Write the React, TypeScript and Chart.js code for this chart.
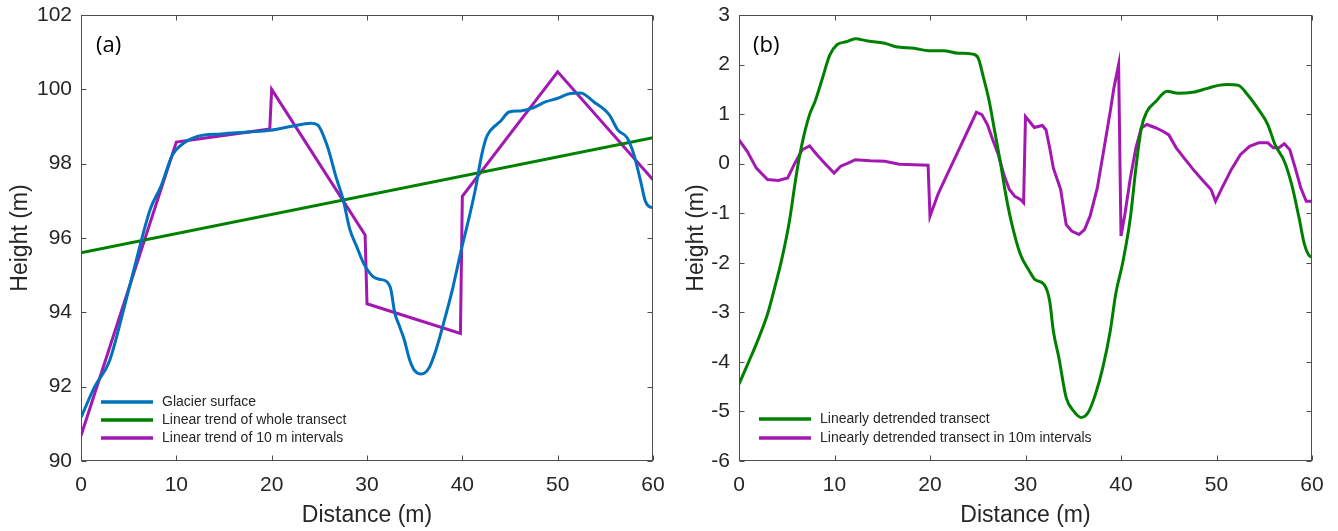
import React, { useEffect, useRef } from 'react';
import { Chart, registerables } from 'chart.js';

Chart.register(...registerables);

const FONT = '"Liberation Sans", Arial, Helvetica, sans-serif';
const TEXT = '#262626';
const BLUE = '#0072BD';
const GREEN = '#008000';
const PURPLE = '#A318B0';

// Panel (a): glacier surface profile
const glacierX = [0, 1.4, 3.0, 4.5, 5.6, 6.5, 7.3, 8.4, 9.6, 10.5, 12.2, 14.7, 17.5, 19.9, 22.0, 24.1, 24.8, 25.8, 26.8, 27.5, 28.2, 28.9, 29.7, 30.6, 31.3, 32.0, 32.5, 32.9, 33.4, 33.9, 34.45, 35.0, 35.7, 36.5, 37.2, 38.1, 39.0, 39.86, 40.7, 41.4, 41.96, 42.5, 43.0, 44.0, 44.9, 46.1, 47.5, 48.7, 50.0, 51.2, 52.4, 53.8, 55.4, 56.3, 57.3, 58.0, 58.7, 59.2, 59.74, 60];
const glacierY = [91.17, 91.98, 92.7, 94.1, 95.2, 96.1, 96.8, 97.4, 98.24, 98.5, 98.73, 98.8, 98.85, 98.9, 99.0, 99.09, 99.05, 98.5, 97.6, 97.03, 96.23, 95.78, 95.29, 94.97, 94.89, 94.84, 94.62, 94.0, 93.63, 93.27, 92.74, 92.43, 92.34, 92.5, 92.96, 93.77, 94.66, 95.65, 96.54, 97.35, 98.15, 98.69, 98.91, 99.14, 99.39, 99.42, 99.51, 99.66, 99.76, 99.88, 99.9, 99.66, 99.32, 98.91, 98.69, 98.24, 97.53, 96.99, 96.83, 96.82];

// Linear trend of whole transect
const trendX = [0, 60];
const trendY = [95.6, 98.7];

// Linear trend of 10 m intervals
const intervalX = [0, 10, 19.8, 20, 29.8, 30, 39.8, 40, 50, 60];
const intervalY = [90.68, 98.58, 98.93, 100.0, 96.08, 94.23, 93.43, 97.12, 100.47, 97.57];

// Panel (b): linearly detrended transect
const detrendX = [0, 1.06, 2.02, 2.98, 3.74, 4.51, 5.28, 5.85, 6.24, 6.81, 7.39, 7.97, 8.73, 9.5, 10.27, 11.23, 12.19, 13.34, 15.26, 16.41, 18.33, 19.87, 21.4, 22.94, 24.47, 25.05, 25.62, 26.2, 26.78, 27.35, 27.93, 28.5, 29.46, 30.42, 31.0, 31.96, 32.53, 32.92, 33.49, 34.26, 35.03, 35.8, 36.56, 37.33, 38.1, 38.87, 39.44, 40.21, 40.98, 41.56, 42.13, 42.71, 43.67, 44.82, 45.97, 47.5, 49.04, 50.19, 51.15, 52.3, 53.26, 54.41, 55.37, 56.14, 57.1, 57.87, 58.64, 59.21, 59.79, 60];
const detrendY = [-4.45, -3.98, -3.54, -3.04, -2.5, -1.9, -1.16, -0.42, 0.05, 0.58, 0.99, 1.26, 1.72, 2.19, 2.4, 2.46, 2.52, 2.48, 2.43, 2.36, 2.33, 2.28, 2.28, 2.23, 2.21, 2.13, 1.72, 1.26, 0.65, 0.05, -0.62, -1.16, -1.83, -2.17, -2.34, -2.44, -2.77, -3.38, -3.91, -4.72, -4.99, -5.12, -5.02, -4.65, -4.11, -3.38, -2.64, -1.97, -1.09, -0.09, 0.72, 1.05, 1.26, 1.46, 1.42, 1.44, 1.52, 1.58, 1.6, 1.58, 1.39, 1.09, 0.79, 0.38, 0.05, -0.42, -1.09, -1.63, -1.87, -1.88];

// Linearly detrended transect in 10 m intervals
const detrend10X = [0, 0.86, 1.82, 2.98, 4.13, 5.09, 5.85, 6.62, 7.39, 8.16, 9.12, 9.96, 10.65, 11.42, 12.19, 13.72, 15.26, 16.79, 18.33, 19.8, 20.0, 20.83, 21.79, 22.94, 24.09, 24.86, 25.43, 26.01, 26.58, 27.16, 27.73, 28.31, 28.88, 29.46, 29.8, 30.0, 30.42, 30.92, 31.77, 32.15, 32.53, 32.92, 33.68, 34.26, 34.84, 35.6, 36.18, 36.76, 37.52, 38.29, 38.87, 39.25, 39.75, 40.0, 40.4, 40.98, 41.56, 42.13, 42.71, 43.67, 44.43, 45.01, 45.78, 46.74, 47.7, 48.66, 49.43, 49.9, 50.58, 51.54, 52.5, 53.46, 54.41, 55.37, 55.95, 56.53, 57.1, 57.68, 58.25, 58.83, 59.4, 60];
const detrend10Y = [0.48, 0.25, -0.09, -0.32, -0.34, -0.29, 0.01, 0.28, 0.36, 0.18, -0.02, -0.19, -0.05, 0.01, 0.08, 0.06, 0.05, -0.01, -0.02, -0.03, -1.06, -0.62, -0.22, 0.25, 0.72, 1.04, 0.99, 0.79, 0.48, 0.18, -0.22, -0.52, -0.66, -0.72, -0.79, 0.95, 0.85, 0.73, 0.77, 0.68, 0.32, -0.09, -0.52, -1.23, -1.36, -1.43, -1.33, -1.06, -0.49, 0.38, 1.05, 1.52, 2.0, -1.46, -1.03, -0.29, 0.32, 0.72, 0.79, 0.72, 0.65, 0.58, 0.32, 0.08, -0.15, -0.36, -0.52, -0.76, -0.49, -0.12, 0.18, 0.35, 0.42, 0.42, 0.32, 0.32, 0.4, 0.28, -0.09, -0.49, -0.76, -0.76];

const xTitle = 'Distance (m)';
const yTitle = 'Height (m)';

function pts(xs: number[], ys: number[]) {
  return xs.map((x, i) => ({ x, y: ys[i] }));
}

const framePlugin = {
  id: 'frame',
  afterDraw(chart: any, _args: any, opts: any) {
    const { ctx, chartArea: a, scales } = chart;
    const xs = scales.x;
    const ys = scales.y;
    ctx.save();
    ctx.strokeStyle = '#4d4d4d';
    ctx.lineWidth = 1;
    const L = Math.round(a.left) + 0.5;
    const R = Math.round(a.right) - 0.5;
    const T = Math.round(a.top) + 0.5;
    const B = Math.round(a.bottom) - 0.5;
    ctx.strokeRect(L, T, R - L, B - T);
    const tl = 5;
    ctx.beginPath();
    xs.ticks.forEach((t: any) => {
      const px = Math.round(xs.getPixelForValue(t.value)) + 0.5;
      ctx.moveTo(px, B); ctx.lineTo(px, B - tl);
      ctx.moveTo(px, T); ctx.lineTo(px, T + tl);
    });
    ys.ticks.forEach((t: any) => {
      const py = Math.round(ys.getPixelForValue(t.value)) + 0.5;
      ctx.moveTo(L, py); ctx.lineTo(L + tl, py);
      ctx.moveTo(R, py); ctx.lineTo(R - tl, py);
    });
    ctx.stroke();

    // legend
    const items = chart.data.datasets;
    ctx.font = `14px ${FONT}`;
    ctx.textBaseline = 'middle';
    ctx.textAlign = 'left';
    items.forEach((ds: any, i: number) => {
      const y = opts.legendY + i * opts.legendStep;
      ctx.strokeStyle = ds.borderColor;
      ctx.lineWidth = 3.5;
      ctx.beginPath();
      ctx.moveTo(opts.legendX, y);
      ctx.lineTo(opts.legendX + 52, y);
      ctx.stroke();
      ctx.fillStyle = TEXT;
      ctx.fillText(ds.label, opts.legendX + 61, y + 0.5);
    });

    // panel label
    ctx.font = `22px "Open Sans", "Noto Sans", sans-serif`;
    ctx.fillStyle = '#000';
    ctx.textBaseline = 'alphabetic';
    ctx.fillText(opts.label, opts.labelX, opts.labelY);
    ctx.restore();
  },
};

function makeOptions(cfg: any) {
  return {
    responsive: false,
    animation: false,
    layout: { padding: { top: 15, right: cfg.padRight, left: 0, bottom: 0 } },
    plugins: {
      legend: { display: false },
      tooltip: { enabled: false },
      frame: cfg.frame,
    },
    elements: { point: { radius: 0 }, line: { tension: 0 } },
    scales: {
      x: {
        type: 'linear',
        min: 0,
        max: 60,
        ticks: { stepSize: 10, padding: 12, color: TEXT, font: { family: FONT, size: 21 }, maxRotation: 0 },
        grid: { display: false, drawTicks: false },
        border: { display: false },
        title: { display: true, text: xTitle, color: TEXT, font: { family: FONT, size: 23 }, padding: { top: 0, bottom: 2 } },
        afterFit: (s: any) => {
          s.height = 70;
          s.paddingLeft = 0; s.paddingRight = 0; s.paddingTop = 0; s.paddingBottom = 0;
        },
      },
      y: {
        type: 'linear',
        min: cfg.yMin,
        max: cfg.yMax,
        ticks: { stepSize: cfg.yStep, padding: 9, color: TEXT, font: { family: FONT, size: 21 } },
        grid: { display: false, drawTicks: false },
        border: { display: false },
        title: { display: true, text: yTitle, color: TEXT, font: { family: FONT, size: 23 }, padding: { top: cfg.yTitlePad, bottom: 0 } },
        afterFit: (s: any) => {
          s.width = cfg.yWidth;
          s.paddingLeft = 0; s.paddingRight = 0; s.paddingTop = 0; s.paddingBottom = 0;
        },
      },
    },
  };
}

function lineDs(label: string, xs: number[], ys: number[], color: string, smooth: boolean) {
  return {
    label,
    data: pts(xs, ys),
    borderColor: color,
    backgroundColor: color,
    borderWidth: 3,
    showLine: true,
    pointRadius: 0,
    fill: false,
    cubicInterpolationMode: smooth ? 'monotone' : 'default',
    tension: 0,
  };
}

export default function App() {
  const leftRef = useRef<HTMLCanvasElement>(null);
  const rightRef = useRef<HTMLCanvasElement>(null);

  useEffect(() => {
    const left = new Chart(leftRef.current as HTMLCanvasElement, {
      type: 'scatter',
      data: {
        datasets: [
          lineDs('Glacier surface', glacierX, glacierY, BLUE, true),
          lineDs('Linear trend of whole transect', trendX, trendY, GREEN, false),
          lineDs('Linear trend of 10 m intervals', intervalX, intervalY, PURPLE, false),
        ],
      },
      options: makeOptions({
        padRight: 16, yMin: 90, yMax: 102, yStep: 2, yWidth: 81, yTitlePad: 7,
        frame: { legendX: 101, legendY: 402, legendStep: 18, label: '(a)', labelX: 96, labelY: 52 },
      }) as any,
      plugins: [framePlugin],
    });
    const right = new Chart(rightRef.current as HTMLCanvasElement, {
      type: 'scatter',
      data: {
        datasets: [
          lineDs('Linearly detrended transect', detrendX, detrendY, GREEN, true),
          lineDs('Linearly detrended transect in 10m intervals', detrend10X, detrend10Y, PURPLE, false),
        ],
      },
      options: makeOptions({
        padRight: 26, yMin: -6, yMax: 3, yStep: 1, yWidth: 70, yTitlePad: 14,
        frame: { legendX: 90, legendY: 419, legendStep: 19, label: '(b)', labelX: 84, labelY: 52 },
      }) as any,
      plugins: [framePlugin],
    });
    return () => {
      left.destroy();
      right.destroy();
    };
  }, []);

  return (
    <div style={{ position: 'absolute', left: 0, top: 0, width: 1338, height: 531, background: '#fff' }}>
      <canvas ref={leftRef} width={669} height={531} style={{ position: 'absolute', left: 0, top: 0 }} />
      <canvas ref={rightRef} width={669} height={531} style={{ position: 'absolute', left: 669, top: 0 }} />
    </div>
  );
}
